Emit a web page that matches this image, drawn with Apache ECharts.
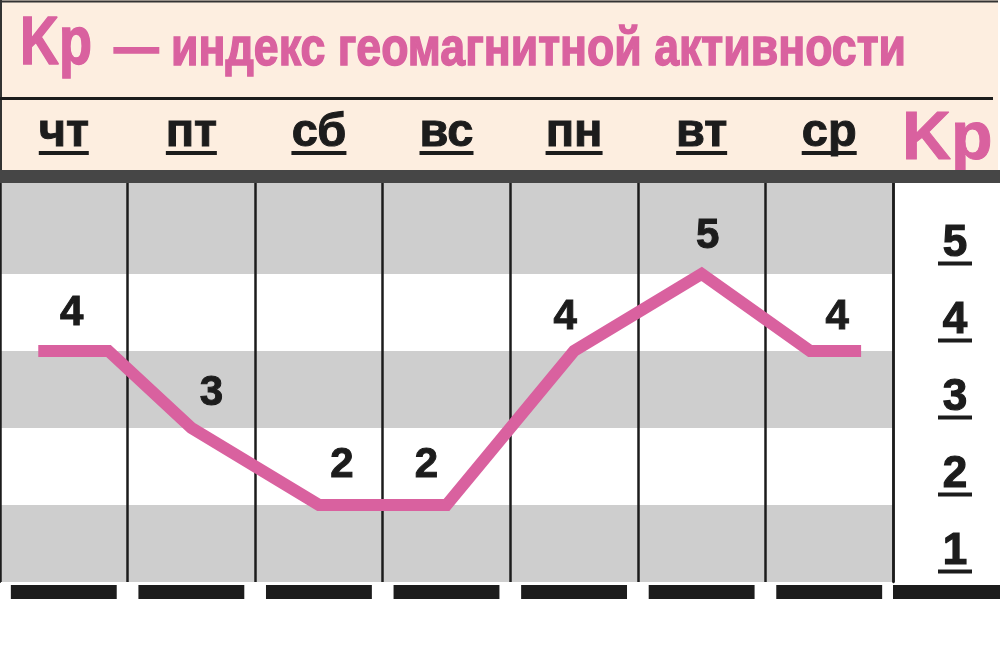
<!DOCTYPE html>
<html><head><meta charset="utf-8">
<script src="https://cdn.jsdelivr.net/npm/echarts@6.0.0/dist/echarts.min.js"></script>
<style>html,body{margin:0;padding:0;background:#fff}#c{width:1000px;height:663px}</style>
</head><body><div id="c"></div>
<script>
// ---- data ----
const titleMain = 'Kp';
const titleRest = '— индекс геомагнитной активности';
const axisName = 'Kp';
const days = ['чт', 'пт', 'сб', 'вс', 'пн', 'вт', 'ср'];
const kpValues = [4, 3, 2, 2, 4, 5, 4];
const kpTickLabels = ['1', '2', '3', '4', '5'];
const bandRanges = [[1, 2], [3, 4], [5, 6.18]];
const yMin = 1, yMax = 6.18;

// ---- style constants ----
const PINK = '#d9619f';
const INK = '#1c1c1c';
const SANS = "'Liberation Sans',Arial,Helvetica,sans-serif";
const dayFont = 47, tickFont = 44;
const labelOffsets = [[8, -37], [20, -35], [23, -40], [-20, -40], [-9, -33], [6, -37], [8, -33]];
const capStart = [0.2, 0.35];  // flat end before/after first day (fraction of column)
const capEnd = [0.15, 0.25];   // flat end before/after last day

function textWidth(t, size, fam) {
  const ctx = document.createElement('canvas').getContext('2d');
  ctx.font = 'bold ' + size + 'px ' + fam;
  return ctx.measureText(t).width;
}

// condensed look for the headline: scale Liberation Sans horizontally to the printed width
const mainSize = 68, restSize = 54;
const mainScale = 72 / textWidth(titleMain, mainSize, SANS);
const restScale = 792 / textWidth(titleRest, restSize, SANS);

// day label rich styles with underline sized to the word
const dayRich = { t: { fontSize: dayFont, fontWeight: 'bold', fontFamily: SANS, color: INK, lineHeight: 36, align: 'center',
  textBorderColor: INK, textBorderWidth: 1 } };
days.forEach((d, i) => {
  dayRich['u' + i] = { width: Math.round(textWidth(d, dayFont, SANS)), height: 4, backgroundColor: INK, align: 'center' };
});

// line data built from values: day i sits at the centre of its column (i + 0.5)
const lineData = [];
kpValues.forEach((v, i) => {
  const c = i + 0.5;
  if (i === 0) lineData.push({ value: [c - capStart[0], v], label: { show: false } });
  if (i === kpValues.length - 1) lineData.push({ value: [c - capEnd[0], v], label: { show: false } });
  lineData.push({ value: [c, v], label: { offset: labelOffsets[i] } });
  if (i === 0) lineData.push({ value: [c + capStart[1], v], label: { show: false } });
  if (i === kpValues.length - 1) lineData.push({ value: [c + capEnd[1], v], label: { show: false } });
});

const chart = echarts.init(document.getElementById('c'), null, { renderer: 'canvas' });
chart.setOption({
  animation: false,
  backgroundColor: '#ffffff',
  graphic: [
    { type: 'rect', z: -10, shape: { x: 0, y: 0, width: 998, height: 170 }, style: { fill: '#fdeee0' } },
    { type: 'line', z: 50, shape: { x1: 0, y1: 1.5, x2: 998, y2: 1.5 }, style: { stroke: '#333', lineWidth: 2 } },
    { type: 'line', z: 50, shape: { x1: 1, y1: 0, x2: 1, y2: 170 }, style: { stroke: '#333', lineWidth: 2 } },
    { type: 'line', z: 50, shape: { x1: 0, y1: 98.5, x2: 993, y2: 98.5 }, style: { stroke: INK, lineWidth: 3 } },
    { type: 'rect', z: 50, shape: { x: 0, y: 170, width: 1000, height: 13 }, style: { fill: '#464646' } },
    { type: 'text', z: 60, x: 20, y: 45, scaleX: mainScale,
      style: { text: titleMain, x: 0, y: 0, fontSize: mainSize, fontWeight: 'bold', fontFamily: SANS,
        fill: PINK, stroke: PINK, lineWidth: 1.5, align: 'left', verticalAlign: 'middle' } },
    { type: 'text', z: 60, x: 114, y: 50, scaleX: restScale,
      style: { text: titleRest, x: 0, y: 0, fontSize: restSize, fontWeight: 'bold', fontFamily: SANS,
        fill: PINK, stroke: PINK, lineWidth: 1.5, align: 'left', verticalAlign: 'middle' } }
  ],
  title: [
    { text: axisName, left: 902, top: 106, padding: 0,
      textStyle: { fontFamily: SANS, fontWeight: 'bold', fontSize: 68, lineHeight: 68, color: PINK,
        textBorderColor: PINK, textBorderWidth: 1 } }
  ],
  grid: [
    { left: 0, right: 107, top: 183, bottom: 81, outerBoundsMode: 'none' },
    { left: 893, right: 0, top: 183, bottom: 81, outerBoundsMode: 'none' },
    { left: 0, right: 107, top: 585, height: 14, outerBoundsMode: 'none' }
  ],
  xAxis: [
    { type: 'category', gridIndex: 0, data: days, position: 'top', z: 3,
      axisLine: { show: false }, axisTick: { show: false },
      splitLine: { show: true, lineStyle: { color: INK, width: 2.5 } },
      axisLabel: { margin: 28, interval: 0, formatter: (v, i) => '{t|' + v + '}\n{u' + i + '|}', rich: dayRich } },
    { type: 'value', gridIndex: 0, min: 0, max: days.length, show: false },
    { type: 'category', gridIndex: 1, data: [''], position: 'bottom', offset: 10,
      axisLine: { show: true, onZero: false, lineStyle: { color: INK, width: 14, cap: 'butt' } },
      axisTick: { show: false }, axisLabel: { show: false } },
    { type: 'category', gridIndex: 2, data: days, show: false }
  ],
  yAxis: [
    { type: 'value', gridIndex: 0, min: yMin, max: yMax, interval: 1,
      axisLine: { show: true, lineStyle: { color: INK, width: 2 } },
      axisTick: { show: false }, axisLabel: { show: false }, splitLine: { show: false } },
    { type: 'value', gridIndex: 1, min: yMin, max: yMax, interval: 0.5, z: 3,
      axisLine: { show: true, lineStyle: { color: INK, width: 2.5 } },
      axisTick: { show: false }, splitLine: { show: false },
      axisLabel: {
        inside: true, align: 'center', margin: 62, padding: [20, 0, 0, 0],
        showMinLabel: false, showMaxLabel: false,
        formatter: v => {
          const k = Math.round((v - yMin) * 2);
          if (k % 2 !== 1) return '';
          const idx = (k - 1) / 2;
          return idx < kpTickLabels.length ? '{t|' + kpTickLabels[idx] + '}\n{u|}' : '';
        },
        rich: {
          t: { fontSize: tickFont, fontWeight: 'bold', fontFamily: SANS, color: INK, lineHeight: 36, align: 'center',
            textBorderColor: INK, textBorderWidth: 1.2 },
          u: { width: 34, height: 4, backgroundColor: INK, align: 'center' }
        }
      } },
    { type: 'value', gridIndex: 2, min: 0, max: 1, show: false }
  ],
  series: [
    { type: 'line', xAxisIndex: 1, yAxisIndex: 0, data: [], z: 1, silent: true,
      markArea: { silent: true, itemStyle: { color: '#cecece' },
        data: bandRanges.map(b => [{ yAxis: b[0] }, { yAxis: b[1] }]) } },
    { type: 'line', xAxisIndex: 1, yAxisIndex: 0, data: lineData, z: 5, silent: true,
      symbol: 'circle', symbolSize: 0.1, showSymbol: true,
      itemStyle: { color: PINK },
      lineStyle: { color: PINK, width: 12, cap: 'butt', join: 'miter' },
      label: { show: true, position: 'inside', formatter: p => String(p.value[1]),
        fontSize: 42, fontWeight: 'bold', fontFamily: SANS, color: INK, textBorderColor: INK, textBorderWidth: 1 } },
    { type: 'bar', xAxisIndex: 3, yAxisIndex: 2, data: days.map(() => 1), barWidth: '83%',
      itemStyle: { color: INK }, silent: true }
  ]
});
</script>
</body></html>
